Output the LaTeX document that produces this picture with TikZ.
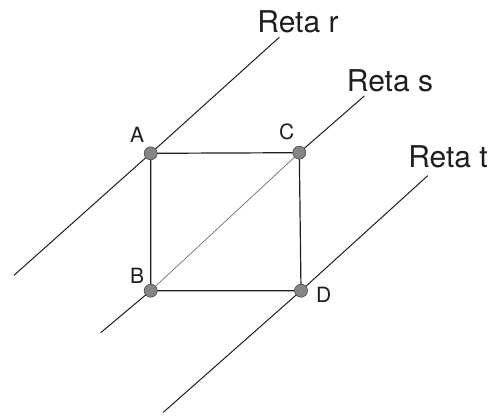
\documentclass[tikz,border=0pt]{standalone}
\usepackage{fontspec}
\setmainfont{TeX Gyre Heros}
\usepackage{xcolor}
\usepackage{tikz}
\usetikzlibrary{positioning}
\definecolor{pointgray}{HTML}{858585}
\definecolor{pointedge}{HTML}{4A4A4A}
\definecolor{diaggray}{HTML}{6E6E6E}
\definecolor{linedark}{HTML}{1E1E1E}
\tikzset{
  reta/.style={draw=linedark, line width=1pt},
  lado/.style={draw=linedark, line width=1.2pt},
  diag/.style={draw=diaggray, line width=0.7pt},
  ponto/.style={circle, fill=pointgray, draw=pointedge, line width=0.6pt, minimum size=13pt, inner sep=0pt},
  rotulo/.style={font=\fontsize{21}{21}\selectfont, text=linedark, inner sep=0pt},
  nomereta/.style={font=\fontsize{30}{30}\selectfont, text=linedark, inner sep=0pt}
}

\begin{document}
\begin{tikzpicture}[x=1pt,y=-1pt]
  \useasboundingbox (0,0) rectangle (502,415);

  \coordinate (pA) at (150.7,153.3);
  \coordinate (pC) at (299.3,152.7);
  \coordinate (pB) at (150.7,290.7);
  \coordinate (pD) at (301,290.7);

  \coordinate (r1) at (14,275.3);
  \coordinate (r2) at (279.3,37.3);
  \coordinate (s1) at (100.7,332.7);
  \coordinate (s2) at (364.3,96);
  \coordinate (t1) at (163.3,412.3);
  \coordinate (t2) at (427.7,175.7);

  \draw[reta] (r1) -- (pA) -- (r2);
  \draw[reta] (s1) -- (pB);
  \draw[reta] (pC) -- (s2);
  \draw[reta] (t1) -- (pD) -- (t2);
  \draw[diag] (pB) -- (pC);
  \draw[lado] (pA) -- (pC) -- (pD) -- (pB) -- cycle;

  \node[ponto] (A) at (pA) {};
  \node[ponto] (C) at (pC) {};
  \node[ponto] (B) at (pB) {};
  \node[ponto] (D) at (pD) {};

  \node[rotulo, above left=6pt and 1.5pt of A] (labelA) {A};
  \node[rotulo, above left=7.5pt and 0pt of C] (labelC) {C};
  \node[rotulo, above left=2.5pt and 1.5pt of B] (labelB) {B};
  \node[rotulo, right=8pt of D, yshift=-4pt] (labelD) {D};

  \node[nomereta] (nomeR) at (298,22) {Reta r};
  \node[nomereta] (nomeS) at (390,81) {Reta s};
  \node[nomereta] (nomeT) at (448,157) {Reta t};
\end{tikzpicture}
\end{document}
